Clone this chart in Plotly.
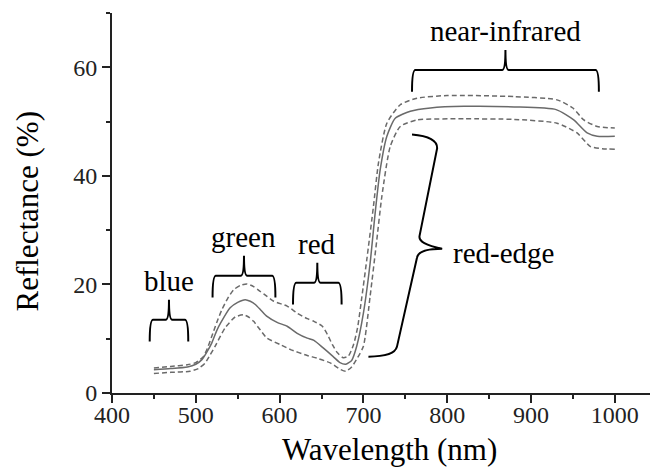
import plotly.graph_objects as go

# ---------------- data ----------------
wl_mean = [450, 470, 490, 500, 507, 513, 519, 525, 530, 541, 550, 559, 565, 571, 578, 585,
           597, 609, 621, 633, 641, 652, 664, 672, 679, 686, 692, 700, 708, 714, 720, 728,
           738, 756, 780, 820, 880, 930, 951, 967, 979, 1000]
refl_mean = [4.3, 4.5, 4.8, 5.3, 6.1, 7.5, 9.2, 11.5, 13.0, 15.7, 16.7, 17.2, 16.9, 16.3, 15.2, 14.1,
             13.0, 12.3, 11.0, 10.1, 9.7, 8.3, 6.7, 5.6, 5.3, 6.0, 8.6, 14.7, 23.9, 33.1, 41.1, 47.3,
             50.6, 51.9, 52.5, 52.8, 52.7, 52.2, 50.3, 47.9, 47.3, 47.3]

wl_upper = [450, 470, 490, 500, 509, 514, 519, 525, 531, 538, 545, 553, 561, 569, 577, 585,
            593, 609, 621, 633, 641, 651, 657, 663, 669, 676, 682, 688, 693, 698, 704, 712,
            718, 728, 744, 764, 800, 880, 931, 950, 963, 979, 1000]
refl_upper = [4.6, 4.9, 5.2, 5.6, 6.7, 8.3, 10.4, 13.0, 15.3, 17.4, 19.0, 19.8, 20.1, 19.6, 18.7, 17.8,
              16.9, 16.0, 14.7, 13.7, 13.2, 12.3, 10.8, 8.9, 7.4, 6.5, 6.8, 8.8, 12.0, 17.5, 24.5, 34.4,
              42.4, 49.7, 53.1, 54.3, 54.8, 54.6, 54.0, 52.5, 50.3, 49.1, 48.8]

wl_lower = [450, 470, 493, 503, 511, 517, 523, 535, 547, 557, 563, 569, 577, 585, 601, 613,
            633, 645, 661, 673, 679, 686, 693, 700, 708, 716, 722, 732, 744, 764, 820, 880,
            931, 955, 971, 985, 1000]
refl_lower = [3.6, 3.8, 4.0, 4.5, 5.5, 7.0, 8.6, 12.0, 14.0, 14.4, 14.0, 13.2, 11.6, 10.1, 8.9, 8.0,
              6.9, 6.4, 5.5, 4.3, 4.0, 4.8, 6.5, 8.6, 17.8, 28.2, 36.2, 45.4, 49.1, 50.3, 50.5, 50.4,
              49.7, 47.9, 45.4, 45.0, 44.9]

# spectral bands (wavelength spans, nm) and label
band_names = ["blue", "green", "red", "near-infrared"]
band_start = [445, 520, 616, 758]
band_end = [491, 595, 674, 981]
band_level = [13.5, 21.6, 20.3, 59.5]   # reflectance level of the brace bar

edge_name = "red-edge"
edge_refl_low = 6.7
edge_refl_high = 47.6

x_ticks = [400, 500, 600, 700, 800, 900, 1000]
y_ticks = [0, 20, 40, 60]

# ---------------- figure ----------------
FONT = "Liberation Serif"
fig = go.Figure()

line_col = "#6a6a6a"
dash_style = "5px,3px"
fig.add_trace(go.Scatter(x=wl_upper, y=refl_upper, mode="lines",
                         line=dict(color=line_col, width=1.5, dash=dash_style, shape="spline", smoothing=0.6),
                         showlegend=False, hoverinfo="skip"))
fig.add_trace(go.Scatter(x=wl_lower, y=refl_lower, mode="lines",
                         line=dict(color=line_col, width=1.5, dash=dash_style, shape="spline", smoothing=0.6),
                         showlegend=False, hoverinfo="skip"))
fig.add_trace(go.Scatter(x=wl_mean, y=refl_mean, mode="lines",
                         line=dict(color=line_col, width=1.5, shape="spline", smoothing=0.6),
                         showlegend=False, hoverinfo="skip"))

shapes = []
annotations = []


def hbrace(x0, x1, yb, drop, rise, rx):
    xc = (x0 + x1) / 2
    y_end = yb - drop
    y_tip = yb + rise
    return (f"M {x0},{y_end} Q {x0},{yb} {x0 + rx},{yb} L {xc - rx},{yb} "
            f"Q {xc},{yb} {xc},{y_tip} Q {xc},{yb} {xc + rx},{yb} "
            f"L {x1 - rx},{yb} Q {x1},{yb} {x1},{y_end}")


for name, s, e, lvl in zip(band_names, band_start, band_end, band_level):
    xc = (s + e) / 2
    shapes.append(dict(type="path", xref="x", yref="y",
                       path=hbrace(s, e, lvl, 4.0, 3.7, 4),
                       line=dict(color="black", width=2)))
    annotations.append(dict(x=xc, y=lvl + 3.7 + 0.2, text=name, showarrow=False,
                            xref="x", yref="y", yanchor="bottom",
                            font=dict(family=FONT, size=29, color="black")))

# red-edge brace (vertical, slanted, opening to the left)
top, bot = edge_refl_high, edge_refl_low
mid = (top + bot) / 2 + 0.3
path = (f"M 758,{top} Q 788,{top - 0.4} 788,{top - 2.5} "
        f"L 767,{mid + 1.5} Q 765,{mid} 794,{mid - 0.9} "
        f"Q 766,{mid - 0.9} 764,{mid - 2.5} "
        f"L 740,{bot + 1.8} Q 737,{bot} 706,{bot}")
shapes.append(dict(type="path", xref="x", yref="y", path=path,
                   line=dict(color="black", width=2)))
annotations.append(dict(x=805, y=mid - 1.6, text=edge_name, showarrow=False,
                        xref="x", yref="y", xanchor="left", yanchor="middle",
                        font=dict(family=FONT, size=29, color="black")))

# axis titles placed as annotations (paper coordinates)
annotations.append(dict(x=(389 - 112) / 538, y=-(469 - 393) / 380, xref="paper", yref="paper",
                        text="Wavelength (nm)", showarrow=False, xanchor="center", yanchor="bottom",
                        font=dict(family=FONT, size=31, color="black")))
annotations.append(dict(x=-(112 - 7) / 538, y=(393 - 211) / 380, xref="paper", yref="paper",
                        text="Reflectance (%)", showarrow=False, xanchor="left", yanchor="middle",
                        textangle=-90, font=dict(family=FONT, size=31, color="black")))

axis_common = dict(showline=True, linecolor="#222", linewidth=2, showgrid=False, zeroline=False,
                   ticks="outside", ticklen=8, tickwidth=1.5, tickcolor="#222",
                   tickfont=dict(family=FONT, size=24, color="#222"))

fig.update_layout(
    width=652, height=469, autosize=False,
    margin=dict(l=112, r=2, t=13, b=76),
    paper_bgcolor="white", plot_bgcolor="white",
    shapes=shapes, annotations=annotations,
    xaxis=dict(range=[400, 1042], tickvals=x_ticks, ticktext=[str(v) for v in x_ticks],
               minor=dict(ticks="outside", ticklen=4, tickwidth=1.5, tickcolor="#222", dtick=50, tick0=0,
                          showgrid=False),
               ticklabelstandoff=-9,
               **axis_common),
    yaxis=dict(range=[0, 70], tickvals=y_ticks, ticktext=[str(v) for v in y_ticks],
               minor=dict(ticks="outside", ticklen=4, tickwidth=1.5, tickcolor="#222", dtick=10, tick0=0,
                          showgrid=False),
               **axis_common),
)

fig.write_html("out.html")
